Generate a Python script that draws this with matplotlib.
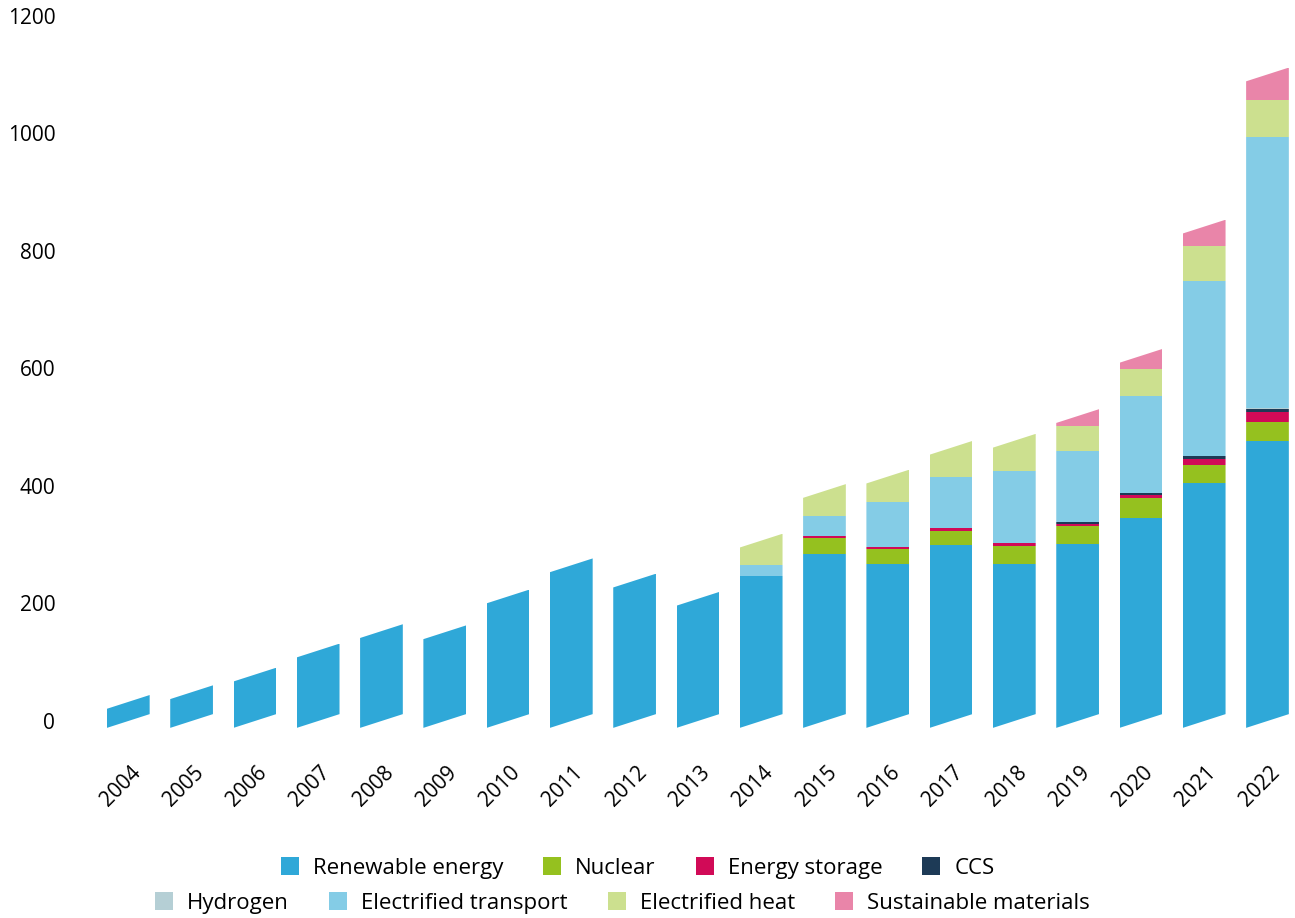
import matplotlib.pyplot as plt
import numpy as np
from matplotlib.patches import Polygon, Patch
from matplotlib.transforms import ScaledTranslation

plt.rcParams['font.family'] = ['Open Sans', 'DejaVu Sans']

years = [str(y) for y in range(2004, 2023)]

# Werte pro Jahr (2004-2022)
renewable = [32.5, 49, 79, 120, 153, 151, 212, 265, 239, 208, 247, 285, 268, 299, 268, 302, 346, 405, 477]
nuclear = [0, 0, 0, 0, 0, 0, 0, 0, 0, 0, 0, 27, 24, 24, 30, 30, 34, 31, 32]
storage = [0, 0, 0, 0, 0, 0, 0, 0, 0, 0, 0, 3.5, 5, 5, 5, 4, 5, 10, 17]
ccs = [0, 0, 0, 0, 0, 0, 0, 0, 0, 0, 0, 0, 0, 0, 0, 3, 2.5, 5, 5]
hydrogen = [0, 0, 0, 0, 0, 0, 0, 0, 0, 0, 0, 0, 0, 0, 0, 0, 0, 0, 1.5]
transport = [0, 0, 0, 0, 0, 0, 0, 0, 0, 0, 18, 34, 75, 87, 122, 121, 166, 298, 461]
heat = [0, 0, 0, 0, 0, 0, 0, 0, 0, 0, 42, 42, 44, 50, 52, 42.5, 46, 59.5, 63.5]
materials = [0, 0, 0, 0, 0, 0, 0, 0, 0, 0, 0, 0, 0, 0, 0, 16.5, 22, 33, 43.5]

series_names = ['Renewable energy', 'Nuclear', 'Energy storage', 'CCS',
                'Hydrogen', 'Electrified transport', 'Electrified heat', 'Sustainable materials']
series_values = [renewable, nuclear, storage, ccs, hydrogen, transport, heat, materials]
series_colors = ['#2fa8d8', '#95c11f', '#d10a57', '#1d3a56',
                 '#b5cfd5', '#84cce6', '#cce08f', '#e985a9']

fig = plt.figure(figsize=(12.95, 9.18), dpi=100)
ax = fig.add_axes([0.0502, 0.1954, 0.9481, 0.8032])

x = np.arange(len(years))
width = 0.675
slant = 11.7  # schräge Ober-/Unterkante, in Datenwerten

data = np.array(series_values, dtype=float)
totals = data.sum(axis=0)
bottoms = np.vstack([np.zeros(len(years)), np.cumsum(data, axis=0)[:-1]])
top_idx = np.array([np.nonzero(data[:, i])[0].max() for i in range(len(years))])

# Parallelogramm als Clip-Pfad pro Balken
clips = []
for i in x:
    clips.append(Polygon([(i - width / 2, -slant), (i + width / 2, slant),
                          (i + width / 2, totals[i] + slant), (i - width / 2, totals[i] - slant)],
                         closed=True, transform=ax.transData))

for k in range(len(series_names)):
    b = bottoms[k].copy()
    h = data[k].copy()
    if k == 0:
        b -= slant
        h += slant
    h = h + np.where(top_idx == k, slant, 0)
    bars = ax.bar(x, h, width, bottom=b, color=series_colors[k], linewidth=0)
    for i, rect in enumerate(bars):
        if data[k, i] == 0:
            rect.set_visible(False)
        rect.set_clip_path(clips[i])

ax.set_xlim(-1, 18.4)
ax.set_ylim(-30, 1225)
ax.set_yticks(range(0, 1201, 200))
ax.set_xticks(x, labels=[])
ax.tick_params(axis='x', length=0)
ax.tick_params(axis='y', length=0, pad=7, labelsize=15)
for sp in ax.spines.values():
    sp.set_visible(False)

# Jahresbeschriftung schräg, etwas nach rechts versetzt
label_tr = ax.get_xaxis_transform() + ScaledTranslation(0.09, -0.31, fig.dpi_scale_trans)
for i, yr in zip(x, years):
    ax.text(i, 0, yr, transform=label_tr, rotation=45, ha='right', va='center',
            rotation_mode='anchor', fontsize=15)

handles = [Patch(facecolor=c, linewidth=0) for c in series_colors]
leg_kw = dict(ncol=4, frameon=False, fontsize=16, handlelength=0.81, handleheight=0.81,
              handletextpad=0.63, columnspacing=1.8, loc='center')
fig.legend(handles[:4], series_names[:4], bbox_to_anchor=(637.5 / 1295, 1 - 868 / 918), **leg_kw)
fig.legend(handles[4:], series_names[4:], bbox_to_anchor=(622.5 / 1295, 1 - 903 / 918), **leg_kw)

fig.savefig('out.png', dpi=100)
